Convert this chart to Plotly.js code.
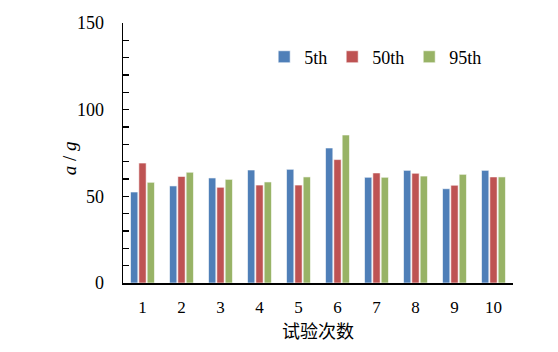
<!DOCTYPE html>
<html>
<head>
<meta charset="utf-8">
<script src="https://cdn.plot.ly/plotly-3.0.1.min.js"></script>
<style>html,body{margin:0;padding:0;background:#fff;}#chart{width:558px;height:352px;}</style>
</head>
<body>
<div id="chart"></div>
<script>
const categories = ['1','2','3','4','5','6','7','8','9','10'];
const seriesNames = ['5th','50th','95th'];
const p5  = [52.5, 56.0, 60.6, 65.2, 65.6, 77.9, 61.0, 65.0, 54.4, 65.0];
const p50 = [69.2, 61.5, 55.2, 56.5, 56.5, 71.2, 63.5, 63.3, 56.4, 61.2];
const p95 = [58.1, 63.9, 59.8, 58.3, 61.2, 85.4, 61.0, 61.7, 62.7, 61.2];
const colors = ['#4F7FB8', '#BE5353', '#98B366'];
const values = [p5, p50, p95];

const serif = 'Liberation Serif';
const traces = values.map((v, i) => ({
  type: 'bar',
  x: categories,
  y: v,
  name: seriesNames[i],
  marker: {color: colors[i], line: {color: 'rgba(255,255,255,0.6)', width: 1}}
}));

const layout = {
  width: 558, height: 352,
  margin: {l: 123, r: 45, t: 23, b: 69},
  paper_bgcolor: '#fff', plot_bgcolor: '#fff',
  barmode: 'group', bargap: 0.36, bargroupgap: 0.12,
  font: {family: serif, size: 17, color: '#000'},
  showlegend: true,
  legend: {orientation: 'h', x: 0.362, xanchor: 'left', y: 0.869, yanchor: 'middle',
           itemwidth: 30, font: {family: serif, size: 18, color: '#000'}, bgcolor: 'rgba(0,0,0,0)', traceorder: 'normal'},
  xaxis: {
    type: 'category', range: [-0.5, 9.5],
    showline: true, linecolor: '#000', linewidth: 1.5, ticks: '', showgrid: false, zeroline: false,
    tickfont: {family: serif, size: 17}, ticklabelstandoff: 8,
    title: {text: '试验次数', font: {family: 'Noto Sans CJK SC', size: 18}, standoff: 0}
  },
  yaxis: {
    range: [0, 150], dtick: 50, tick0: 0,
    showline: true, linecolor: '#000', linewidth: 1.5,
    ticks: 'inside', ticklen: 6, tickwidth: 1.2, tickcolor: '#000',
    minor: {dtick: 10, ticks: 'inside', ticklen: 6, tickwidth: 1.2, tickcolor: '#000', showgrid: false},
    showgrid: false, zeroline: false,
    tickfont: {family: serif, size: 18}, ticklabelstandoff: 14
  },
  annotations: [{
    text: '<i>a</i> / <i>g</i>', xref: 'paper', yref: 'paper',
    x: -0.1385, y: 0.48, xanchor: 'center', yanchor: 'middle', textangle: -90,
    showarrow: false, font: {family: serif, size: 19, color: '#000'}
  }]
};

Plotly.newPlot('chart', traces, layout, {staticPlot: true, displayModeBar: false});
</script>
</body>
</html>
